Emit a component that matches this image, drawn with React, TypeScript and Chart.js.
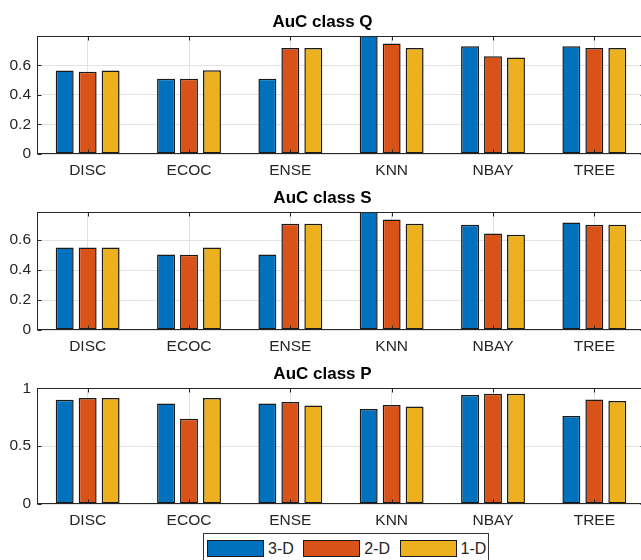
import React, { useEffect, useRef } from "react";
import { Chart, registerables } from "chart.js";
Chart.register(...registerables);

const categories = ["DISC", "ECOC", "ENSE", "KNN", "NBAY", "TREE"];
const seriesLabels = ["3-D", "2-D", "1-D"];
const seriesColors = ["#0072BD", "#D95319", "#EDB120"];

const classQ3D = [0.565, 0.51, 0.51, 0.83, 0.73, 0.73];
const classQ2D = [0.557, 0.51, 0.718, 0.748, 0.662, 0.718];
const classQ1D = [0.565, 0.567, 0.718, 0.718, 0.653, 0.718];

const classS3D = [0.551, 0.504, 0.504, 0.83, 0.702, 0.717];
const classS2D = [0.551, 0.502, 0.709, 0.737, 0.644, 0.702];
const classS1D = [0.551, 0.551, 0.709, 0.709, 0.635, 0.702];

const classP3D = [0.902, 0.87, 0.87, 0.822, 0.943, 0.761];
const classP2D = [0.917, 0.738, 0.882, 0.856, 0.954, 0.905];
const classP1D = [0.917, 0.917, 0.853, 0.844, 0.954, 0.891];

const yTicksQ = [0, 0.2, 0.4, 0.6];
const yTicksS = [0, 0.2, 0.4, 0.6];
const yTicksP = [0, 0.5, 1];
const yMaxQ = 0.796;
const yMaxS = 0.785;
const yMaxP = 1;

const FONT = '"Liberation Sans", Arial, Helvetica, sans-serif';
const AXIS = "#262626";
const GRID = "#e2e2e2";

const boxPlugin = {
  id: "matlabBox",
  afterDatasetsDraw(chart: any) {
    const { ctx, chartArea, scales } = chart;
    const l = Math.round(chartArea.left) + 0.5;
    const r = Math.round(chartArea.right) - 0.5;
    const t = Math.round(chartArea.top) + 0.5;
    const b = Math.round(chartArea.bottom) - 0.5;
    ctx.save();
    ctx.strokeStyle = AXIS;
    ctx.lineWidth = 1;
    ctx.strokeRect(l, t, r - l, b - t);
    ctx.beginPath();
    const tl = 4;
    scales.x.ticks.forEach((_: any, i: number) => {
      const px = Math.round(scales.x.getPixelForTick(i)) + 0.5;
      ctx.moveTo(px, b);
      ctx.lineTo(px, b - tl);
      ctx.moveTo(px, t);
      ctx.lineTo(px, t + tl);
    });
    scales.y.ticks.forEach((tk: any) => {
      const py = Math.round(scales.y.getPixelForValue(tk.value)) + 0.5;
      ctx.moveTo(l, py);
      ctx.lineTo(l + tl, py);
      ctx.moveTo(r, py);
      ctx.lineTo(r - tl, py);
    });
    ctx.stroke();
    ctx.restore();
  },
};

type PanelProps = {
  title: string;
  series: number[][];
  yMax: number;
  yTicks: number[];
  top: number;
  height: number;
};

function Panel({ title, series, yMax, yTicks, top, height }: PanelProps) {
  const ref = useRef<HTMLCanvasElement>(null);
  useEffect(() => {
    if (!ref.current) return;
    const chart = new Chart(ref.current, {
      type: "bar",
      data: {
        labels: categories,
        datasets: seriesLabels.map((label, i) => ({
          label,
          data: series[i],
          backgroundColor: seriesColors[i],
          borderColor: "#1a1a1a",
          borderWidth: 1.5,
          borderSkipped: false,
          categoryPercentage: 0.68,
          barPercentage: 0.78,
        })),
      },
      options: {
        responsive: false,
        maintainAspectRatio: false,
        animation: false,
        layout: { padding: 0 },
        plugins: {
          legend: { display: false },
          tooltip: { enabled: false },
          title: {
            display: true,
            text: title,
            color: "#000",
            font: { family: FONT, size: 17, weight: "bold" },
            padding: { top: 12, bottom: 4 },
          },
        },
        scales: {
          x: {
            offset: true,
            grid: { offset: false, color: GRID, drawTicks: false },
            border: { display: false },
            ticks: { font: { family: FONT, size: 15.5 }, color: AXIS, padding: 7 },
            afterFit: (s: any) => {
              s.height = 26;
            },
          },
          y: {
            min: 0,
            max: yMax,
            afterBuildTicks: (s: any) => {
              s.ticks = yTicks.map((v) => ({ value: v }));
            },
            grid: { color: GRID, drawTicks: false },
            border: { display: false },
            ticks: {
              font: { family: FONT, size: 15.5 },
              color: AXIS,
              padding: 6,
              callback: (v: any) => String(v),
            },
            afterFit: (s: any) => {
              s.width = 37;
            },
          },
        },
      } as any,
      plugins: [boxPlugin],
    });
    return () => chart.destroy();
  }, []);
  return (
    <canvas
      ref={ref}
      width={645}
      height={height}
      style={{ position: "absolute", left: 0, top, width: 645, height }}
    />
  );
}

export default function App() {
  return (
    <div
      style={{
        position: "fixed",
        left: 0,
        top: 0,
        width: 641,
        height: 560,
        overflow: "hidden",
        background: "#fff",
      }}
    >
      <Panel title="AuC class Q" series={[classQ3D, classQ2D, classQ1D]} yMax={yMaxQ} yTicks={yTicksQ} top={0} height={180} />
      <Panel title="AuC class S" series={[classS3D, classS2D, classS1D]} yMax={yMaxS} yTicks={yTicksS} top={176} height={180} />
      <Panel title="AuC class P" series={[classP3D, classP2D, classP1D]} yMax={yMaxP} yTicks={yTicksP} top={352} height={178} />
      <div
        style={{
          position: "absolute",
          left: 203,
          top: 533,
          width: 286,
          height: 40,
          border: "1px solid #333",
          background: "#fff",
          boxSizing: "border-box",
        }}
      >
        {seriesLabels.map((label, i) => (
          <React.Fragment key={label}>
            <div
              style={{
                position: "absolute",
                left: 3 + i * 96.3,
                top: 6,
                width: 57,
                height: 17,
                background: seriesColors[i],
                border: "1px solid #1a1a1a",
                boxSizing: "border-box",
              }}
            />
            <div
              style={{
                position: "absolute",
                left: 64 + i * 96.3,
                top: 5,
                fontFamily: FONT,
                fontSize: 16,
                lineHeight: "20px",
                color: AXIS,
              }}
            >
              {label}
            </div>
          </React.Fragment>
        ))}
      </div>
    </div>
  );
}
